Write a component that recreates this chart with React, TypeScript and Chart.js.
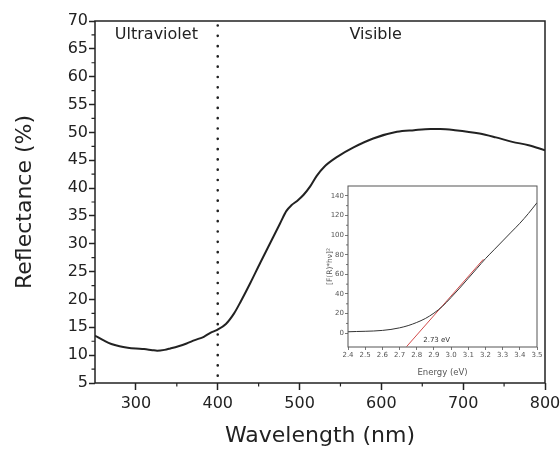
import React, { useEffect, useRef } from 'react';
import { Chart, registerables } from 'chart.js';
Chart.register(...registerables);

// ---- main chart data ----
const wavelength = [250, 260, 270, 280, 290, 300, 310, 320, 326, 335, 342, 352, 362, 372, 383, 391, 400, 410, 420, 428, 440, 452, 464, 476, 484, 490, 497, 505, 513, 521, 530, 546, 566, 590, 619, 640, 660, 672, 690, 720, 740, 760, 780, 800];
const reflectance = [13.5, 12.7, 12.0, 11.6, 11.35, 11.2, 11.1, 10.9, 10.8, 10.95, 11.2, 11.6, 12.1, 12.7, 13.3, 14.0, 14.6, 15.6, 17.5, 19.6, 23.0, 26.6, 30.1, 33.6, 35.9, 36.9, 37.7, 38.8, 40.3, 42.2, 43.8, 45.6, 47.3, 48.9, 50.1, 50.4, 50.6, 50.6, 50.4, 49.8, 49.1, 48.3, 47.7, 46.8];
const xTickValues = [300, 400, 500, 600, 700, 800];
const yTickValues = [5, 10, 15, 20, 25, 30, 35, 40, 45, 50, 55, 60, 65, 70];
const uvBoundary = 400;
const regionNames = ['Ultraviolet', 'Visible'];
const regionAnchorsX = [325, 593];
const regionAnchorY = 67.6;

// ---- inset data ----
const energy = [2.4, 2.45, 2.5, 2.55, 2.6, 2.65, 2.7, 2.75, 2.8, 2.85, 2.9, 2.95, 3.0, 3.05, 3.1, 3.15, 3.2, 3.25, 3.3, 3.35, 3.4, 3.45, 3.5];
const kubelka = [1.5, 1.8, 2.0, 2.3, 2.9, 3.9, 5.5, 7.8, 11, 15, 20.5, 27.5, 36.5, 46, 56, 66, 76, 85, 94, 103, 112, 122, 133];
const fitEnergy = [2.741, 3.188];
const fitValue = [-13.6, 75.4];
const insetXTickValues = [2.4, 2.5, 2.6, 2.7, 2.8, 2.9, 3.0, 3.1, 3.2, 3.3, 3.4, 3.5];
const insetYTickValues = [0, 20, 40, 60, 80, 100, 120, 140];
const gapLabel = '2.73 eV';
const gapLabelAt = [2.916, -6.8];

const FONT = 'DejaVu Sans';
const INK = '#222';
const INSET_INK = '#555';

function mids(arr: number[]) {
  const out: number[] = [];
  for (let i = 0; i < arr.length - 1; i++) out.push((arr[i] + arr[i + 1]) / 2);
  return out;
}

function makeFramePlugin(color: string, width: number) {
  return {
    id: 'frame',
    afterDatasetsDraw(chart: any) {
      const { ctx, chartArea: a } = chart;
      ctx.save();
      ctx.strokeStyle = color;
      ctx.lineWidth = width;
      ctx.strokeRect(a.left, a.top, a.right - a.left, a.bottom - a.top);
      ctx.restore();
    },
  };
}

function makeMinorTicksPlugin(xMinor: number[], yMinor: number[], len: number, color: string, width: number) {
  return {
    id: 'minorTicks',
    afterDraw(chart: any) {
      const { ctx, chartArea: a, scales } = chart;
      ctx.save();
      ctx.strokeStyle = color;
      ctx.lineWidth = width;
      ctx.beginPath();
      xMinor.forEach((v) => {
        const px = scales.x.getPixelForValue(v);
        ctx.moveTo(px, a.bottom);
        ctx.lineTo(px, a.bottom + len);
      });
      yMinor.forEach((v) => {
        const py = scales.y.getPixelForValue(v);
        ctx.moveTo(a.left, py);
        ctx.lineTo(a.left - len, py);
      });
      ctx.stroke();
      ctx.restore();
    },
  };
}

function makeTextPlugin(items: { text: string; x: number; y: number }[], font: string, color: string) {
  return {
    id: 'texts',
    afterDatasetsDraw(chart: any) {
      const { ctx, scales } = chart;
      ctx.save();
      ctx.font = font;
      ctx.fillStyle = color;
      ctx.textAlign = 'center';
      ctx.textBaseline = 'middle';
      items.forEach((it) => {
        ctx.fillText(it.text, scales.x.getPixelForValue(it.x), scales.y.getPixelForValue(it.y));
      });
      ctx.restore();
    },
  };
}

function zeroPad(s: any) {
  s.paddingLeft = 0;
  s.paddingRight = 0;
  s.paddingTop = 0;
  s.paddingBottom = 0;
}

export default function App() {
  const mainRef = useRef<HTMLCanvasElement>(null);
  const insetRef = useRef<HTMLCanvasElement>(null);

  useEffect(() => {
    const mainChart = new Chart(mainRef.current!, {
      type: 'line',
      data: {
        datasets: [
          {
            data: wavelength.map((w, i) => ({ x: w, y: reflectance[i] })),
            borderColor: INK,
            borderWidth: 2,
            pointRadius: 0,
            tension: 0.3,
            cubicInterpolationMode: 'monotone',
            fill: false,
          },
          {
            data: [
              { x: uvBoundary, y: 69.2 },
              { x: uvBoundary, y: 5 },
            ],
            borderColor: INK,
            borderWidth: 2.6,
            borderDash: [0.1, 10.2],
            borderCapStyle: 'round',
            pointRadius: 0,
            fill: false,
          },
        ],
      },
      options: {
        responsive: false,
        animation: false,
        devicePixelRatio: 1,
        layout: { padding: { left: 0, top: 21, right: 15, bottom: 0 } },
        plugins: { legend: { display: false }, tooltip: { enabled: false }, title: { display: false } },
        scales: {
          x: {
            type: 'linear',
            min: 250,
            max: 800,
            afterBuildTicks: (s: any) => {
              s.ticks = xTickValues.map((v) => ({ value: v }));
            },
            afterFit: (s: any) => {
              s.height = 66;
              zeroPad(s);
            },
            grid: { drawOnChartArea: false, drawTicks: true, tickLength: 7, tickColor: INK, tickWidth: 1.5 },
            border: { display: false },
            ticks: { font: { family: FONT, size: 16 }, color: INK, padding: 4, maxRotation: 0, autoSkip: false },
            title: { display: true, text: 'Wavelength (nm)', font: { family: FONT, size: 22 }, color: INK, padding: { top: 0, bottom: 0 } },
          },
          y: {
            type: 'linear',
            min: 5,
            max: 70,
            afterBuildTicks: (s: any) => {
              s.ticks = yTickValues.map((v) => ({ value: v }));
            },
            afterFit: (s: any) => {
              s.width = 95;
              zeroPad(s);
            },
            grid: { drawOnChartArea: false, drawTicks: true, tickLength: 6, tickColor: INK, tickWidth: 1.5 },
            border: { display: false },
            ticks: { font: { family: FONT, size: 16 }, color: INK, padding: 1, autoSkip: false },
            title: { display: true, text: 'Reflectance (%)', font: { family: FONT, size: 22 }, color: INK, padding: { top: 12, bottom: 0 } },
          },
        },
      } as any,
      plugins: [
        makeFramePlugin(INK, 1.5),
        makeMinorTicksPlugin(mids(xTickValues).concat([350 - 100]).filter((v) => v > 250), mids(yTickValues), 3.5, INK, 1.2),
        makeTextPlugin(
          regionNames.map((t, i) => ({ text: t, x: regionAnchorsX[i], y: regionAnchorY })),
          `16px "${FONT}"`,
          INK
        ),
      ],
    });

    const insetChart = new Chart(insetRef.current!, {
      type: 'line',
      data: {
        datasets: [
          {
            data: energy.map((e, i) => ({ x: e, y: kubelka[i] })),
            borderColor: '#333',
            borderWidth: 1,
            pointRadius: 0,
            tension: 0.3,
            cubicInterpolationMode: 'monotone',
            fill: false,
          },
          {
            data: fitEnergy.map((e, i) => ({ x: e, y: fitValue[i] })),
            borderColor: '#d24a4a',
            borderWidth: 1,
            pointRadius: 0,
            fill: false,
          },
        ],
      },
      options: {
        responsive: false,
        animation: false,
        devicePixelRatio: 1,
        layout: { padding: { left: 0, top: 6, right: 5, bottom: 0 } },
        plugins: { legend: { display: false }, tooltip: { enabled: false }, title: { display: false } },
        scales: {
          x: {
            type: 'linear',
            min: 2.4,
            max: 3.5,
            afterBuildTicks: (s: any) => {
              s.ticks = insetXTickValues.map((v) => ({ value: v }));
            },
            afterFit: (s: any) => {
              s.height = 31;
              zeroPad(s);
            },
            grid: { drawOnChartArea: false, drawTicks: true, tickLength: 3, tickColor: INSET_INK, tickWidth: 0.8 },
            border: { display: false },
            ticks: {
              font: { family: FONT, size: 7 },
              color: INSET_INK,
              padding: 1,
              maxRotation: 0,
              autoSkip: false,
              callback: (v: any) => Number(v).toFixed(1),
            },
            title: { display: true, text: 'Energy (eV)', font: { family: FONT, size: 8.5 }, color: INSET_INK, padding: { top: 0, bottom: 0 } },
          },
          y: {
            type: 'linear',
            min: -14,
            max: 150,
            afterBuildTicks: (s: any) => {
              s.ticks = insetYTickValues.map((v) => ({ value: v }));
            },
            afterFit: (s: any) => {
              s.width = 30;
              zeroPad(s);
            },
            grid: { drawOnChartArea: false, drawTicks: true, tickLength: 3, tickColor: INSET_INK, tickWidth: 0.8 },
            border: { display: false },
            ticks: { font: { family: FONT, size: 7 }, color: INSET_INK, padding: 1, autoSkip: false },
            title: { display: true, text: '[F(R)*hν]²', font: { family: FONT, size: 7.5 }, color: INSET_INK, padding: { top: 8, bottom: 0 } },
          },
        },
      } as any,
      plugins: [
        makeFramePlugin(INSET_INK, 1),
        makeMinorTicksPlugin([], mids(insetYTickValues), 2, INSET_INK, 0.8),
        makeTextPlugin([{ text: gapLabel, x: gapLabelAt[0], y: gapLabelAt[1] }], `7px "${FONT}"`, '#333'),
      ],
    });

    return () => {
      mainChart.destroy();
      insetChart.destroy();
    };
  }, []);

  return (
    <div style={{ position: 'absolute', left: 0, top: 0, width: 560, height: 449, background: '#fff' }}>
      <canvas ref={mainRef} width={560} height={449} style={{ position: 'absolute', left: 0, top: 0, width: 560, height: 449 }} />
      <canvas ref={insetRef} width={224} height={198} style={{ position: 'absolute', left: 318, top: 180, width: 224, height: 198 }} />
    </div>
  );
}
